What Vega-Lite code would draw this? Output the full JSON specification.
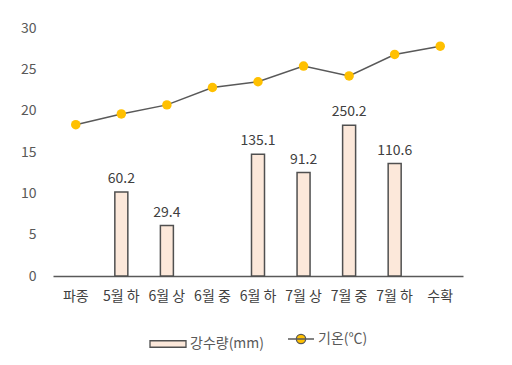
{
  "$schema": "https://vega.github.io/schema/vega-lite/v6.json",
  "autosize": "none",
  "width": 410,
  "height": 248,
  "padding": {"left": 53, "top": 28, "right": 49, "bottom": 89},
  "background": "white",
  "data": {
    "values": [
      {"period": "파종", "rain": null, "temp": 18.3},
      {"period": "5월 하", "rain": 60.2, "temp": 19.6},
      {"period": "6월 상", "rain": 29.4, "temp": 20.7},
      {"period": "6월 중", "rain": null, "temp": 22.8},
      {"period": "6월 하", "rain": 135.1, "temp": 23.5},
      {"period": "7월 상", "rain": 91.2, "temp": 25.4},
      {"period": "7월 중", "rain": 250.2, "temp": 24.2},
      {"period": "7월 하", "rain": 110.6, "temp": 26.8},
      {"period": "수확", "rain": null, "temp": 27.8}
    ]
  },
  "encoding": {
    "x": {
      "field": "period",
      "type": "nominal",
      "sort": null,
      "title": null,
      "scale": {
        "domain": ["파종", "5월 하", "6월 상", "6월 중", "6월 하", "7월 상", "7월 중", "7월 하", "수확"],
        "paddingInner": 0,
        "paddingOuter": 0
      },
      "axis": {
        "labelAngle": 0,
        "labelOverlap": false,
        "labelBound": false,
        "ticks": false,
        "domainColor": "#595959",
        "domainWidth": 1.3,
        "labelPadding": 13,
        "labelFontSize": 14,
        "labelColor": "#404040"
      }
    }
  },
  "layer": [
    {
      "transform": [{"filter": "datum.rain != null"}],
      "layer": [
        {
          "mark": {"type": "bar", "width": 13, "stroke": "#505050", "strokeWidth": 1.5},
          "encoding": {
            "y": {
              "field": "rain",
              "type": "quantitative",
              "scale": {"type": "log", "domain": [10, 2000]},
              "axis": null
            },
            "y2": {"datum": 10},
            "fill": {
              "datum": "강수량(mm)",
              "scale": {"range": ["#FCE8DA"]},
              "legend": {
                "title": null,
                "orient": "bottom",
                "offset": 22,
                "symbolType": "M-1,-0.18H1V0.18H-1Z",
                "symbolSize": 1296,
                "symbolStrokeColor": "#505050",
                "symbolStrokeWidth": 1.3,
                "labelOffset": 3
              }
            }
          }
        },
        {
          "mark": {"type": "text", "dy": -13, "fontSize": 14, "color": "#404040"},
          "encoding": {
            "y": {"field": "rain", "type": "quantitative", "scale": {"type": "log", "domain": [10, 2000]}, "axis": null},
            "text": {"field": "rain", "type": "quantitative", "format": ".1f"}
          }
        }
      ]
    },
    {
      "layer": [
        {
          "mark": {"type": "line", "strokeWidth": 1.5},
          "encoding": {
            "y": {
              "field": "temp",
              "type": "quantitative",
              "scale": {"domain": [0, 30]},
              "title": null,
              "axis": {
                "orient": "left",
                "tickCount": 6,
                "grid": false,
                "domain": false,
                "ticks": false,
                "labelPadding": 17,
                "labelFontSize": 14,
                "labelColor": "#595959"
              }
            },
            "stroke": {
              "datum": "기온(℃)",
              "scale": {"range": ["#595959"]},
              "legend": {
                "title": null,
                "orient": "bottom",
                "offset": 22,
                "symbolType": "M-1,0H1M0.36,0A0.36,0.36,0,1,1,-0.36,0A0.36,0.36,0,1,1,0.36,0Z",
                "symbolSize": 676,
                "symbolFillColor": "#FFC000",
                "symbolStrokeWidth": 1.3,
                "labelOffset": 3
              }
            }
          }
        },
        {
          "mark": {"type": "point", "filled": true, "size": 90, "color": "#FFC000", "opacity": 1},
          "encoding": {
            "y": {"field": "temp", "type": "quantitative", "scale": {"domain": [0, 30]}}
          }
        }
      ]
    }
  ],
  "resolve": {"scale": {"y": "independent"}},
  "config": {
    "font": "Noto Sans CJK KR",
    "view": {"stroke": null},
    "legend": {
      "labelFontSize": 14,
      "labelColor": "#595959",
      "layout": {"bottom": {"anchor": "middle", "direction": "horizontal", "margin": 22}}
    }
  }
}
